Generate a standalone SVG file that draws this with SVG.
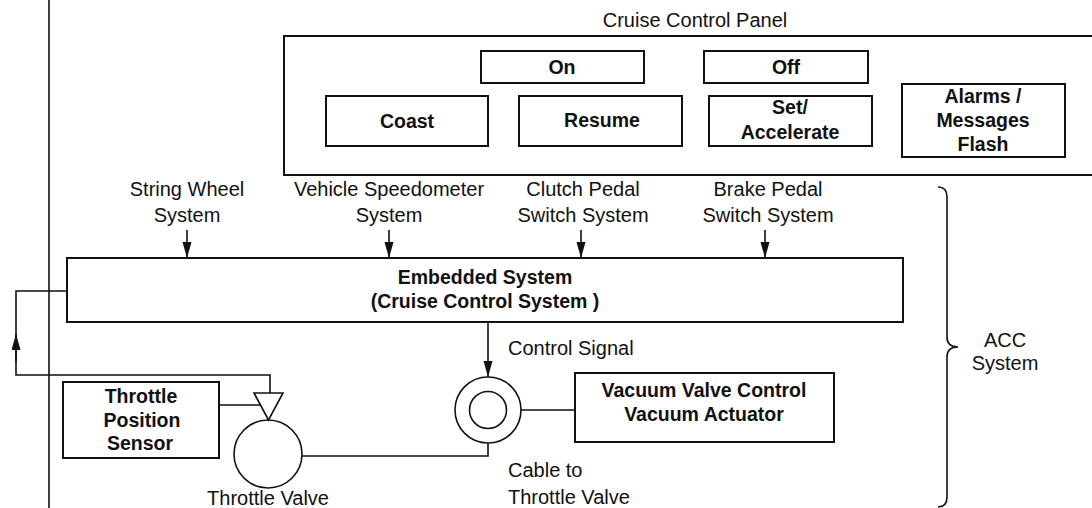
<svg xmlns="http://www.w3.org/2000/svg" width="1092" height="508" viewBox="0 0 1092 508">
<defs>
<style>
.box{fill:none;stroke:#111;stroke-width:2}
.ln{fill:none;stroke:#111;stroke-width:1.6}
.lbl{font-family:"Liberation Sans",Arial,sans-serif;font-size:20px;fill:#111}
.bt{font-family:"Liberation Sans",Arial,sans-serif;font-size:19.5px;font-weight:bold;fill:#111;text-anchor:middle}
.c{text-anchor:middle}
</style>
<marker id="ah" markerUnits="userSpaceOnUse" markerWidth="17" markerHeight="10" refX="16" refY="4.5" orient="auto">
<path d="M0,0 L16,4.5 L0,9 z" fill="#111"/>
</marker>
</defs>
<rect width="1092" height="508" fill="#fff"/>

<g id="frame-line">
<line class="ln" x1="49" y1="0" x2="49" y2="508"/>
</g>

<g id="panel">
<text class="lbl c" x="695" y="27">Cruise Control Panel</text>
<rect class="box" x="284" y="36" width="820" height="139"/>
</g>
<g id="on"><rect class="box" x="481" y="51" width="163" height="32"/><text class="bt" x="562" y="74">On</text></g>
<g id="off"><rect class="box" x="704" y="51" width="164" height="32"/><text class="bt" x="786" y="74">Off</text></g>
<g id="coast"><rect class="box" x="326" y="96" width="162" height="50"/><text class="bt" x="407" y="128">Coast</text></g>
<g id="resume"><rect class="box" x="519" y="96" width="163" height="50"/><text class="bt" x="602" y="127">Resume</text></g>
<g id="set"><rect class="box" x="709" y="96" width="163" height="50"/><text class="bt" x="790" y="114">Set/</text><text class="bt" x="790" y="139">Accelerate</text></g>
<g id="alarms"><rect class="box" x="902" y="84" width="163" height="73"/><text class="bt" x="983" y="103">Alarms /</text><text class="bt" x="983" y="127">Messages</text><text class="bt" x="983" y="151">Flash</text></g>

<g id="inputs">
<text class="lbl c" x="187" y="196">String Wheel</text><text class="lbl c" x="187" y="222">System</text>
<text class="lbl c" x="389" y="196">Vehicle Speedometer</text><text class="lbl c" x="389" y="222">System</text>
<text class="lbl c" x="583" y="196">Clutch Pedal</text><text class="lbl c" x="583" y="222">Switch System</text>
<text class="lbl c" x="768" y="196">Brake Pedal</text><text class="lbl c" x="768" y="222">Switch System</text>
</g>

<g id="embedded">
<rect class="box" x="67" y="258" width="836" height="64"/>
<text class="bt" x="485" y="284">Embedded System</text>
<text class="bt" x="485" y="308">(Cruise Control System )</text>
</g>

<g id="sensor">
<rect class="box" x="63" y="382" width="156" height="76"/>
<text class="bt" x="141" y="403">Throttle</text>
<text class="bt" x="142" y="427">Position</text>
<text class="bt" x="140" y="450">Sensor</text>
</g>

<g id="throttle-valve">
<polygon class="ln" points="254,393 283,393 268.5,420"/>
<circle class="ln" cx="268" cy="454" r="34"/>
<text class="lbl c" x="268" y="505">Throttle Valve</text>
</g>

<g id="actuator-joint">
<circle class="ln" cx="488" cy="410" r="33"/>
<circle class="ln" cx="488" cy="410" r="18.5"/>
<text class="lbl" x="508" y="355">Control Signal</text>
<text class="lbl" x="508" y="477">Cable to</text>
<text class="lbl" x="508" y="504">Throttle Valve</text>
</g>

<g id="vacuum">
<rect class="box" x="575" y="373" width="259" height="69"/>
<text class="bt" x="704" y="397">Vacuum Valve Control</text>
<text class="bt" x="704" y="421">Vacuum Actuator</text>
</g>

<g id="acc">
<path class="ln" d="M938,187 Q947,187 947,197 V337 Q947,347 958,347 Q947,347 947,357 V497 Q947,507 938,507"/>
<text class="lbl c" x="1005" y="347">ACC</text>
<text class="lbl c" x="1005" y="370">System</text>
</g>

<g id="connectors">
<line class="ln" x1="187" y1="230" x2="187" y2="258" marker-end="url(#ah)"/>
<line class="ln" x1="389" y1="230" x2="389" y2="258" marker-end="url(#ah)"/>
<line class="ln" x1="581" y1="230" x2="581" y2="258" marker-end="url(#ah)"/>
<line class="ln" x1="765" y1="230" x2="765" y2="258" marker-end="url(#ah)"/>
<line class="ln" x1="488" y1="322" x2="488" y2="377" marker-end="url(#ah)"/>
<path class="ln" d="M67,291 H16 V375 H270 V393"/>
<line class="ln" x1="16" y1="362" x2="16" y2="334" marker-end="url(#ah)"/>
<line class="ln" x1="219" y1="405" x2="260" y2="405"/>
<path class="ln" d="M302,456 H488 V443"/>
<line class="ln" x1="521" y1="410" x2="575" y2="410"/>
</g>
</svg>
